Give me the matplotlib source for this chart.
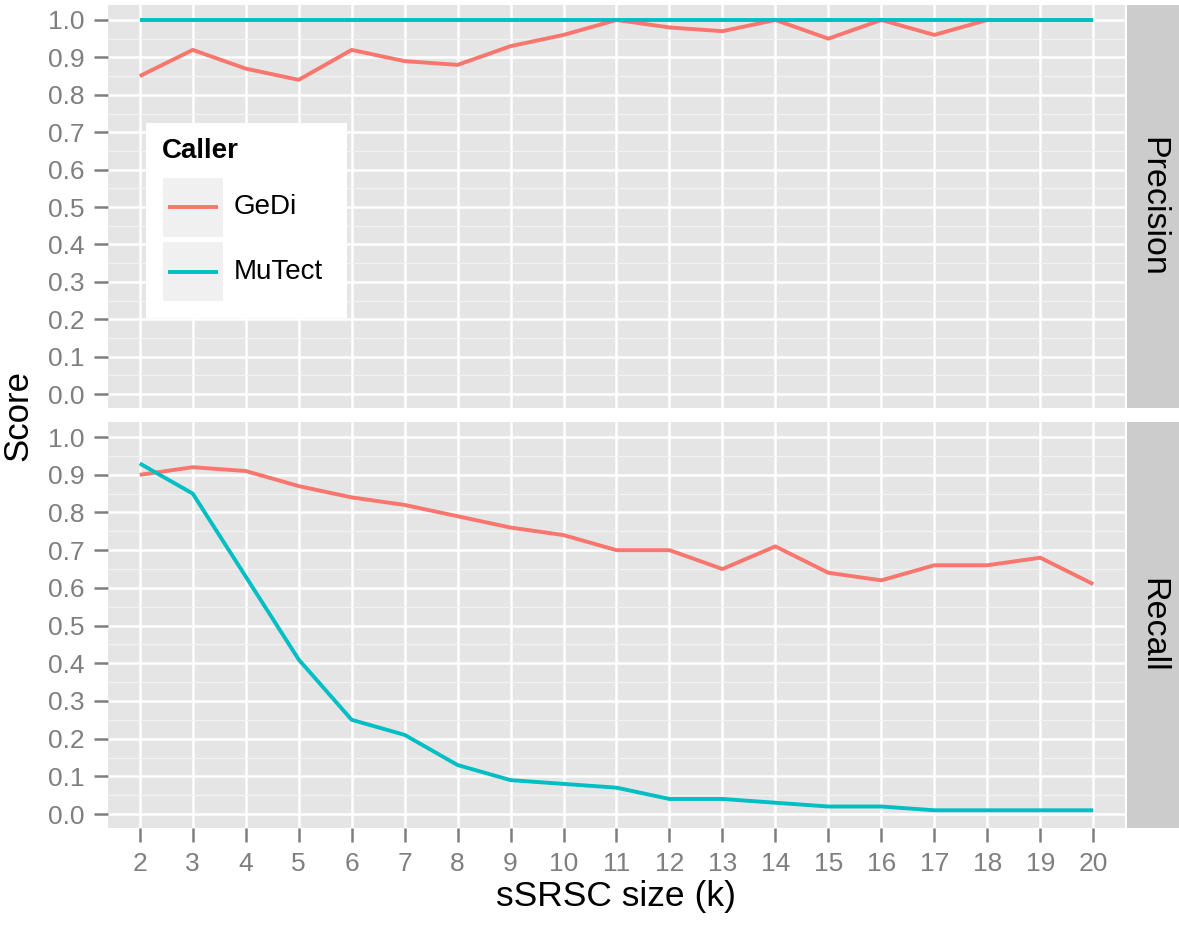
import matplotlib.pyplot as plt
import matplotlib.patches as mpatches

plt.rcParams['font.family'] = ['Liberation Sans', 'DejaVu Sans']

# sSRSC size (k)
k = [2, 3, 4, 5, 6, 7, 8, 9, 10, 11, 12, 13, 14, 15, 16, 17, 18, 19, 20]

# Precision panel
precision_gedi = [0.85, 0.92, 0.87, 0.84, 0.92, 0.89, 0.88, 0.93, 0.96, 1.00,
                  0.98, 0.97, 1.00, 0.95, 1.00, 0.96, 1.00, 1.00, 1.00]
precision_mutect = [1.00, 1.00, 1.00, 1.00, 1.00, 1.00, 1.00, 1.00, 1.00, 1.00,
                    1.00, 1.00, 1.00, 1.00, 1.00, 1.00, 1.00, 1.00, 1.00]

# Recall panel
recall_gedi = [0.90, 0.92, 0.91, 0.87, 0.84, 0.82, 0.79, 0.76, 0.74, 0.70,
               0.70, 0.65, 0.71, 0.64, 0.62, 0.66, 0.66, 0.68, 0.61]
recall_mutect = [0.93, 0.85, 0.63, 0.41, 0.25, 0.21, 0.13, 0.09, 0.08, 0.07,
                 0.04, 0.04, 0.03, 0.02, 0.02, 0.01, 0.01, 0.01, 0.01]

callers = ['GeDi', 'MuTect']
colores = {'GeDi': '#F8766D', 'MuTect': '#00BFC4'}
paneles = ['Precision', 'Recall']
yticks = [0.0, 0.1, 0.2, 0.3, 0.4, 0.5, 0.6, 0.7, 0.8, 0.9, 1.0]
yminor = [0.05, 0.15, 0.25, 0.35, 0.45, 0.55, 0.65, 0.75, 0.85, 0.95]

datos = {
    'Precision': {'GeDi': precision_gedi, 'MuTect': precision_mutect},
    'Recall': {'GeDi': recall_gedi, 'MuTect': recall_mutect},
}

W, H = 1179, 927
fig = plt.figure(figsize=(W / 100, H / 100), dpi=100)


def px_rect(x0, y0, x1, y1):
    # caja en pixeles (origen arriba-izquierda) -> fraccion de figura
    return [x0 / W, 1 - y1 / H, (x1 - x0) / W, (y1 - y0) / H]


gris = '#7F7F7F'
ancho_linea = 2.8
paneles_px = [(5, 408), (422, 828)]
ejes = []
for nombre, (top, bottom) in zip(paneles, paneles_px):
    ax = fig.add_axes(px_rect(108, top, 1125, bottom))
    ax.set_facecolor('#E5E5E5')
    for s in ax.spines.values():
        s.set_visible(False)
    ax.set_xlim(1.4, 20.6)
    ax.set_ylim(-0.037, 1.04)
    ax.set_xticks(k)
    ax.set_yticks(yticks)
    ax.set_yticklabels([f'{v:.1f}' for v in yticks])
    ax.set_yticks(yminor, minor=True)
    ax.grid(which='major', color='white', linewidth=1.8)
    ax.grid(which='minor', axis='y', color='#F2F2F2', linewidth=0.9)
    ax.set_axisbelow(True)
    ax.tick_params(which='major', color=gris, labelcolor=gris, labelsize=19,
                   length=10, width=1.8, pad=7)
    ax.tick_params(which='minor', length=0)
    for c in callers:
        ax.plot(k, datos[nombre][c], color=colores[c], linewidth=ancho_linea,
                solid_capstyle='butt', clip_on=False)

    # strip del facet
    st = fig.add_axes(px_rect(1127, top, 1179, bottom))
    st.set_facecolor('#CCCCCC')
    st.set_xticks([])
    st.set_yticks([])
    for s in st.spines.values():
        s.set_visible(False)
    st.text(0.5, 0.5, nombre, rotation=-90, ha='center', va='center',
            fontsize=24.5, transform=st.transAxes)
    ejes.append(ax)

ax_p, ax_r = ejes
ax_p.tick_params(axis='x', labelbottom=False, length=0)
ax_r.set_xlabel('sSRSC size (k)', fontsize=25.5, labelpad=3)
fig.text(18 / W, 1 - 415 / H, 'Score', rotation=90, ha='center', va='center',
         fontsize=25)

# Leyenda dentro del panel de precision (dibujada a mano, estilo ggplot)
def ax_frac(x, y):
    return ((x - 108) / 1017, (408 - y) / 403)


bx, by = ax_frac(146, 318)
ax_p.add_patch(mpatches.Rectangle((bx, by), 201 / 1017, 195 / 403,
                                  transform=ax_p.transAxes, facecolor='white',
                                  edgecolor='none', zorder=5))
tx, ty = ax_frac(162, 151)
ax_p.text(tx, ty, 'Caller', fontsize=20, fontweight='bold', ha='left',
          va='center', transform=ax_p.transAxes, zorder=6)
for c, (ytop, ybot, yl) in zip(callers, [(178, 237, 207), (242, 301, 272)]):
    kx, ky = ax_frac(163, ybot)
    ax_p.add_patch(mpatches.Rectangle((kx, ky), 60 / 1017, (ybot - ytop) / 403,
                                      transform=ax_p.transAxes,
                                      facecolor='#F0F0F0', edgecolor='none',
                                      zorder=6))
    x0, yy = ax_frac(168, yl)
    x1, _ = ax_frac(218, yl)
    ax_p.plot([x0, x1], [yy, yy], color=colores[c], linewidth=ancho_linea,
              transform=ax_p.transAxes, zorder=7, solid_capstyle='butt')
    lx, _ = ax_frac(234, yl)
    ax_p.text(lx, yy, c, fontsize=20, ha='left', va='center',
              transform=ax_p.transAxes, zorder=7)

fig.savefig('out.png', dpi=100)
